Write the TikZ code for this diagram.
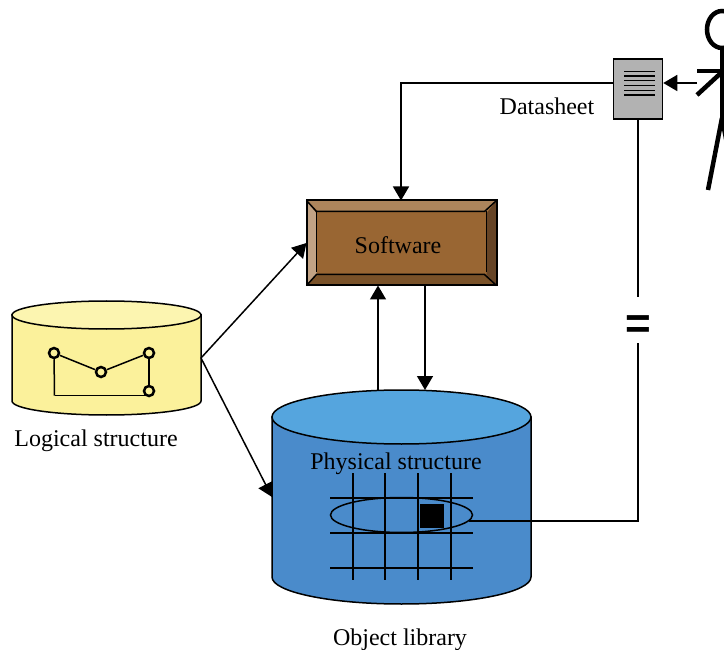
\documentclass[tikz,border=0pt]{standalone}
\usepackage{fontspec}
\setmainfont{Liberation Serif}
\newfontfamily\eqfont{Liberation Sans}
\usetikzlibrary{shapes.geometric, arrows.meta}
\usetikzlibrary{positioning}
\tikzstyle{arrow} = [line width=1.5pt,-{Triangle[length=14pt,width=16pt]}]
\tikzstyle{wire} = [line width=1.5pt]
\tikzstyle{lbl} = [font=\fontsize{24}{26}\selectfont, inner sep=0pt]
\tikzstyle{store} = [rectangle, inner sep=0pt, outer sep=0pt]
\tikzstyle{rim} = [draw=black, line width=1.5pt]
\tikzstyle{dot} = [circle, draw=black, line width=2.5pt, fill=logicfill, minimum size=10pt, inner sep=0pt]
\tikzstyle{grid} = [line width=2pt]
\tikzstyle{limb} = [line width=4.5pt]
\definecolor{logicfill}{HTML}{FBF19B}
\definecolor{logictop}{HTML}{FCF5B0}
\definecolor{libfill}{HTML}{4A8BCB}
\definecolor{libtop}{HTML}{55A5DE}
\definecolor{softface}{HTML}{996633}
\definecolor{softtop}{HTML}{AD855C}
\definecolor{softleft}{HTML}{C2A385}
\definecolor{softright}{HTML}{664426}
\definecolor{softbottom}{HTML}{7A5229}

\begin{document}
\begin{tikzpicture}[x=1pt, y=-1pt]
  \useasboundingbox (0,0) rectangle (724,650);
  \clip (0,0) rectangle (724,650);

  % stores
  \node (logical) [store, minimum width=189pt, minimum height=114pt] at (106.5,358) {};
  \draw[rim, fill=logicfill] ([yshift=-14pt]logical.north west) -- ([yshift=14pt]logical.south west)
    arc (180:0:94.5 and 14) -- ([yshift=-14pt]logical.north east) -- cycle;
  \draw[rim, fill=logictop] ([yshift=-14pt]logical.north) ellipse (94.5 and 14);
  \node (library) [store, minimum width=259pt, minimum height=214pt] at (401.5,497) {};
  \draw[rim, fill=libfill] ([yshift=-27pt]library.north west) -- ([yshift=27pt]library.south west)
    arc (180:0:129.5 and 27) -- ([yshift=-27pt]library.north east) -- cycle;
  \draw[rim, fill=libtop] ([yshift=-27pt]library.north) ellipse (129.5 and 27);

  % bevelled box
  \node (software) [rectangle, draw=black, line width=2pt, fill=softface, minimum width=188pt,
    minimum height=83pt, inner sep=0pt] at (401.5,243) {};
  \fill[softtop] (software.north west) -- (software.north east) -- ++(-10,11) -- ++(-168,0) -- cycle;
  \fill[softbottom] (software.south west) -- (software.south east) -- ++(-10,-11) -- ++(-168,0) -- cycle;
  \fill[softleft] (software.north west) -- (software.south west) -- ++(10,-11) -- ++(0,-61) -- cycle;
  \fill[softright] (software.north east) -- (software.south east) -- ++(-10,-11) -- ++(0,-61) -- cycle;
  \draw[line width=1.5pt] (software.north west) -- ++(10,11) -- ++(168,0) -- (software.north east);
  \draw[line width=1.5pt] (software.south west) -- ++(10,-11) -- ++(168,0) -- (software.south east);
  \draw[line width=1.5pt] ([shift={(10,11)}]software.north west) -- ++(0,61);
  \draw[line width=1.5pt] ([shift={(-10,11)}]software.north east) -- ++(0,61);
  \draw[line width=2pt] (software.north west) rectangle (software.south east);

  % datasheet
  \node (sheet) [rectangle, draw=black, line width=1.5pt, fill=black!30, minimum width=49pt,
    minimum height=60pt, inner sep=0pt] at (638,89) {};
  \foreach \y in {71.3,76,80.7,85.7,90.3,95}
    \draw[line width=1.2pt] (624,\y) -- (655,\y);

  % person
  \coordinate (hand) at (697,83);
  \draw[limb] (722,29.5) ellipse (15 and 18.5);
  \draw[limb] (722,48) -- (722,118);
  \draw[limb] (697,71) -- (722,71);
  \draw[limb] (722,72) -- (697,95);
  \draw[limb] (722,118) -- (708,190);
  \draw[limb] (722,118) -- (736,190);

  % logical graph
  \coordinate (corner) at (54.5,395.7);
  \coordinate (base) at (149,395.7);
  \node (p1) [dot] at (54,353) {};
  \node (p2) [dot] at (101,372) {};
  \node (p3) [dot] at (149,353) {};
  \node (p4) [dot] at (149,391) {};
  \draw[wire] (p1) -- (p2);
  \draw[wire] (p2) -- (p3);
  \draw[wire] (p3) -- (p4);
  \draw[wire] (base) -- (corner);
  \draw[wire] (corner) -- (p1);

  % physical grid
  \foreach \y in {497.5,533,568}
    \draw[grid] (330,\y) -- (473,\y);
  \foreach \x in {353,385,418,451}
    \draw[grid] (\x,473) -- (\x,580);
  \node (cellring) [ellipse, draw=black, line width=1.5pt, minimum width=142pt, minimum height=35pt,
    inner sep=0pt] at (401.5,515) {};
  \node (cell) [rectangle, fill=black, minimum size=24pt, inner sep=0pt] at (432,516) {};

  % labels
  \node (softwarelbl) [lbl] at (398,245) {Software};
  \node (sheetlbl) [lbl] at (547,106) {Datasheet};
  \node (logicallbl) [lbl] at (96,441) {Logical structure};
  \node (physicallbl) [lbl] at (396,464) {Physical structure};
  \node (librarylbl) [lbl] at (400,640) {Object library};

  % connectors
  \draw[arrow] (logical.east) -- (software.west);
  \draw[arrow] (logical.east) -- (library.west);
  \draw[arrow] ([xshift=-23.5pt]library.north) -- ([xshift=-23.5pt]software.south);
  \draw[arrow] ([xshift=23.5pt]software.south) -- ([xshift=23.5pt]library.north);
  \draw[arrow] (hand) -- (sheet.east |- hand);
  \draw[arrow] (sheet.west |- hand) -| ([xshift=-0.5pt]software.north);
  \draw[wire] (sheet.south) |- node[pos=0.25, fill=white, inner sep=0pt, minimum width=30pt, minimum height=46pt,
    font=\eqfont\bfseries\fontsize{44}{44}\selectfont] (equal) {\raisebox{-18pt}[0pt][0pt]{=}} (cellring.-5);
\end{tikzpicture}
\end{document}
